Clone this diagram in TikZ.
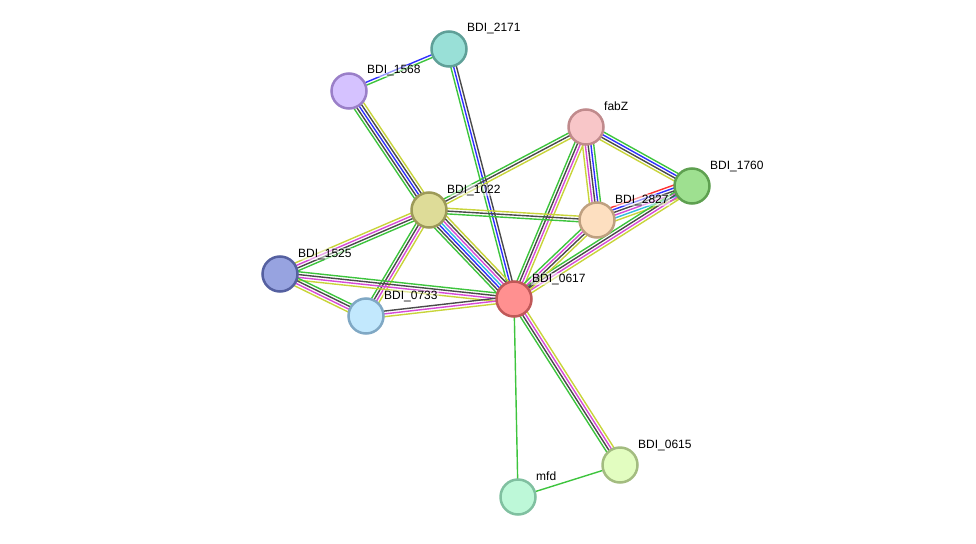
\documentclass[tikz,border=0pt]{standalone}
\usepackage{fontspec}
\setmainfont{Liberation Sans}
\usetikzlibrary{calc,backgrounds}
\definecolor{sgreen}{HTML}{3DC43D}
\definecolor{sblack}{HTML}{4A4A4A}
\definecolor{smag}{HTML}{D64BD6}
\definecolor{syellow}{HTML}{C8D43A}
\definecolor{sblue}{HTML}{3030FF}
\definecolor{scyan}{HTML}{33BBDD}
\definecolor{sred}{HTML}{FF3030}
\tikzset{
  prot/.style={circle, minimum size=35pt, inner sep=0pt, line width=2.5pt},
  lbl/.style={anchor=base west, inner sep=1pt, font=\fontsize{12}{14}\selectfont, fill=white, fill opacity=0.5, text opacity=1},
  strand/.style={line width=1.4pt}
}
\newcommand\medge[3]{%
  \foreach \c [count=\i] in {#3} {\xdef\nstrand{\i}}%
  \foreach \c [count=\i] in {#3} {%
    \pgfmathsetmacro\off{(\i-(\nstrand+1)/2)*2.8}%
    \draw[strand, \c] ($(#1)!\off pt!90:(#2)$) -- ($(#2)!\off pt!-90:(#1)$);
  }}

\begin{document}
\begin{tikzpicture}[x=1pt,y=-1pt]
\useasboundingbox (0,0) rectangle (976,543);
\node[prot, fill={rgb,255:red,153;green,224;blue,215}, draw={rgb,255:red,95;green,160;blue,152}] (n2171) at (449,49) {};
\node[prot, fill={rgb,255:red,213;green,194;blue,255}, draw={rgb,255:red,154;green,127;blue,200}] (n1568) at (349,91) {};
\node[prot, fill={rgb,255:red,248;green,198;blue,200}, draw={rgb,255:red,192;green,138;blue,140}] (nfabZ) at (586,127) {};
\node[prot, fill={rgb,255:red,158;green,224;blue,144}, draw={rgb,255:red,94;green,160;blue,80}] (n1760) at (692,186) {};
\node[prot, fill={rgb,255:red,222;green,220;blue,152}, draw={rgb,255:red,157;green,154;blue,88}] (n1022) at (429,210) {};
\node[prot, fill={rgb,255:red,253;green,223;blue,192}, draw={rgb,255:red,191;green,160;blue,128}] (n2827) at (597,220) {};
\node[prot, fill={rgb,255:red,151;green,163;blue,224}, draw={rgb,255:red,85;green,96;blue,160}] (n1525) at (280,274) {};
\node[prot, fill={rgb,255:red,194;green,232;blue,253}, draw={rgb,255:red,128;green,168;blue,196}] (n0733) at (366,316) {};
\node[prot, fill={rgb,255:red,255;green,144;blue,144}, draw={rgb,255:red,192;green,88;blue,88}] (n0617) at (514,299) {};
\node[prot, fill={rgb,255:red,226;green,253;blue,192}, draw={rgb,255:red,163;green,188;blue,128}] (n0615) at (620,465) {};
\node[prot, fill={rgb,255:red,189;green,248;blue,216}, draw={rgb,255:red,128;green,192;blue,160}] (nmfd) at (518,497) {};

\begin{pgfonlayer}{background}
\medge{n1568}{n2171}{sgreen,sblue}
\medge{n2171}{n0617}{sgreen,sblue,sblack}
\medge{n1568}{n1022}{sgreen,sblack,sblue,sblack,syellow}
\medge{n1022}{n0617}{sgreen,sblack,sblue,scyan,smag,sblack,syellow}
\medge{nfabZ}{n1022}{sgreen,sblack,syellow}
\medge{nfabZ}{n0617}{sgreen,sblack,smag,syellow}
\medge{nfabZ}{n2827}{syellow,smag,sblack,sblue,sgreen}
\medge{nfabZ}{n1760}{syellow,sblack,sblue,sgreen}
\medge{n2827}{n1760}{syellow,scyan,smag,sblack,sblue,sred}
\medge{n1760}{n0617}{sgreen,sblack,smag,syellow}
\medge{n2827}{n0617}{sgreen,smag,sblack,syellow}
\medge{n1022}{n2827}{sgreen,sblack,syellow}
\medge{n1022}{n1525}{syellow,smag,sblack,sgreen}
\medge{n1022}{n0733}{sgreen,sblack,smag,syellow}
\medge{n1525}{n0617}{syellow,smag,sblack,sgreen}
\medge{n1525}{n0733}{syellow,smag,sblack,sgreen}
\medge{n0733}{n0617}{syellow,smag,sblack}
\medge{n0617}{n0615}{sgreen,sblack,smag,syellow}
\medge{n0617}{nmfd}{sgreen}
\medge{nmfd}{n0615}{sgreen}
\end{pgfonlayer}

\node[lbl] (t2171) at ([shift={(17,-17)}]n2171) {BDI\_2171};
\node[lbl] (t1568) at ([shift={(17,-17)}]n1568) {BDI\_1568};
\node[lbl] (tfabZ) at ([shift={(17,-17)}]nfabZ) {fabZ};
\node[lbl] (t1760) at ([shift={(17,-17)}]n1760) {BDI\_1760};
\node[lbl] (t1022) at ([shift={(17,-17)}]n1022) {BDI\_1022};
\node[lbl] (t2827) at ([shift={(17,-17)}]n2827) {BDI\_2827};
\node[lbl] (t1525) at ([shift={(17,-17)}]n1525) {BDI\_1525};
\node[lbl] (t0733) at ([shift={(17,-17)}]n0733) {BDI\_0733};
\node[lbl] (t0617) at ([shift={(17,-17)}]n0617) {BDI\_0617};
\node[lbl] (t0615) at ([shift={(17,-17)}]n0615) {BDI\_0615};
\node[lbl] (tmfd) at ([shift={(17,-17)}]nmfd) {mfd};
\end{tikzpicture}
\end{document}
